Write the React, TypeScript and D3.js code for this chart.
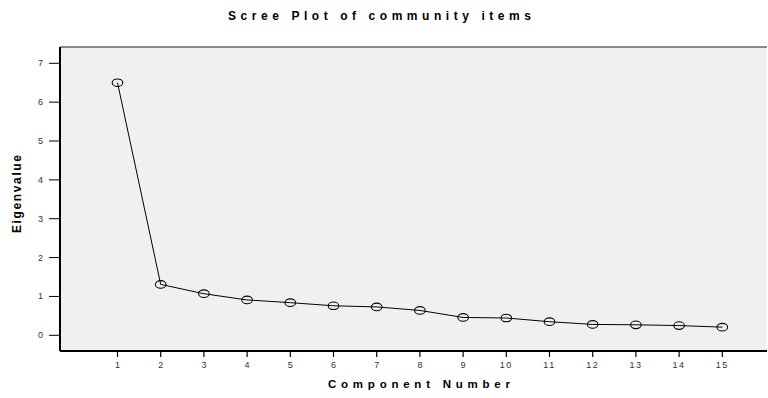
import React from "react";
import * as d3 from "d3";

// Scree plot: eigenvalue of each extracted component
const components: number[] = [1, 2, 3, 4, 5, 6, 7, 8, 9, 10, 11, 12, 13, 14, 15];
const eigenvalues: number[] = [6.5, 1.31, 1.07, 0.91, 0.84, 0.76, 0.73, 0.64, 0.46, 0.445, 0.35, 0.28, 0.27, 0.25, 0.21];
const yTicks: number[] = [0, 1, 2, 3, 4, 5, 6, 7];

const titleText = "Scree Plot of community items";
const xTitle = "Component Number";
const yTitle = "Eigenvalue";

const W = 768;
const H = 398;
const frame = { left: 60, right: 767, top: 47, bottom: 351 };

export default function App() {
  const x = d3.scaleLinear().domain([1, 15]).range([117.5, 722.3]);
  const y = d3.scaleLinear().domain([0, 7]).range([335.3, 63.3]);

  const line = d3
    .line<number>()
    .x((_, i) => x(components[i]))
    .y((d) => y(d));

  const font = "'Liberation Sans', Arial, sans-serif";

  return (
    <svg
      width={W}
      height={H}
      style={{ position: "absolute", left: 0, top: 0, background: "#fff" }}
      fontFamily={font}
    >
      {/* chart title */}
      <text
        x={228}
        y={20}
        fontSize={12}
        fontWeight="bold"
        textLength={303}
        lengthAdjust="spacing"
        fill="#000"
      >
        {titleText}
      </text>

      {/* plot frame */}
      <rect
        x={frame.left}
        y={frame.top}
        width={frame.right - frame.left}
        height={frame.bottom - frame.top}
        fill="#f0f0f0"
      />
      <line x1={frame.left} x2={frame.right} y1={frame.top} y2={frame.top} stroke="#666" strokeWidth={1.5} />
      <line x1={frame.left} x2={frame.left} y1={frame.top} y2={frame.bottom} stroke="#000" strokeWidth={2} />
      <line x1={frame.left} x2={frame.right} y1={frame.bottom} y2={frame.bottom} stroke="#000" strokeWidth={2} />

      {/* y axis ticks */}
      {yTicks.map((t) => (
        <g key={`y${t}`}>
          <line x1={49} x2={frame.left} y1={y(t)} y2={y(t)} stroke="#000" strokeWidth={1} />
          <text x={43} y={y(t) + 3} fontSize={9} textAnchor="end" fill="#333">
            {t}
          </text>
        </g>
      ))}

      {/* x axis ticks */}
      {components.map((c) => (
        <g key={`x${c}`}>
          <line x1={x(c)} x2={x(c)} y1={frame.bottom} y2={357} stroke="#000" strokeWidth={1.2} />
          <text
            x={x(c)}
            y={368}
            fontSize={9}
            textAnchor="middle"
            letterSpacing={c >= 10 ? 1.5 : 0}
            fill="#333"
          >
            {c}
          </text>
        </g>
      ))}

      {/* axis titles */}
      <text
        x={328}
        y={388}
        fontSize={11.5}
        fontWeight="bold"
        textLength={182}
        lengthAdjust="spacing"
        fill="#000"
      >
        {xTitle}
      </text>
      <text
        transform={`translate(21,233) rotate(-90)`}
        fontSize={12}
        fontWeight="bold"
        textLength={78}
        lengthAdjust="spacing"
        fill="#000"
      >
        {yTitle}
      </text>

      {/* eigenvalue line and markers */}
      <path d={line(eigenvalues) ?? ""} fill="none" stroke="#000" strokeWidth={1} />
      {eigenvalues.map((v, i) => (
        <ellipse
          key={`p${i}`}
          cx={x(components[i])}
          cy={y(v)}
          rx={5.3}
          ry={3.8}
          fill="none"
          stroke="#000"
          strokeWidth={1.1}
        />
      ))}
    </svg>
  );
}
